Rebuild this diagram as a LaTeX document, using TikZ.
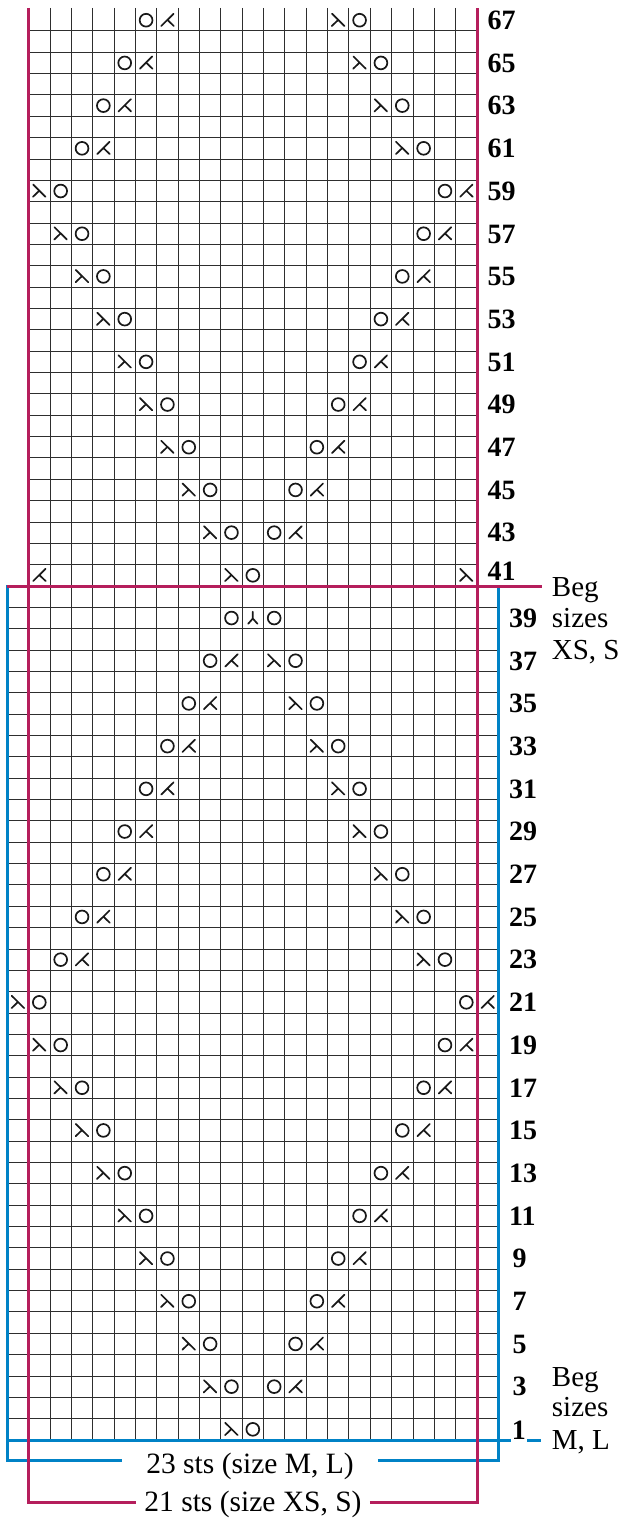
\documentclass[tikz,border=0pt]{standalone}
\usepackage{fontspec}
\setmainfont{Liberation Serif}
\definecolor{chartred}{RGB}{181,30,92}
\definecolor{chartblue}{RGB}{0,130,198}
\newcommand\chartst[3]{\pic at ({\xo+(#2+0.5)*\cw},{\yb-(#3-0.5)*\cw}) {#1};}
\begin{document}
\begin{tikzpicture}[x=1pt,y=-1pt,
  gridline/.style={line width=0.9pt, draw=black!82},
  sym/.style={line width=1.7pt, draw=black!90, line cap=round},
  redline/.style={line width=3pt, draw=chartred},
  blueline/.style={line width=3pt, draw=chartblue},
  rownum/.style={font=\fontsize{28}{30}\selectfont\bfseries, inner sep=0pt, anchor=base west},
  begtext/.style={font=\fontsize{29}{31}\selectfont, inner sep=0pt, anchor=base west},
  ststext/.style={font=\fontsize{29.5}{32}\selectfont, anchor=base, inner ysep=0pt},
  pics/yo/.style={code={\draw[sym] (0,0) circle (6.4);}},
  pics/kl/.style={code={\draw[sym] (6.2,-6.5) -- (-6.2,5.8) (0,-0.35) -- (6.4,5.8);}},
  pics/kr/.style={code={\draw[sym] (-6.2,-6.5) -- (6.2,5.8) (0,-0.35) -- (-6.4,5.8);}},
  pics/cdd/.style={code={\draw[sym] (0,-6.3) -- (0,0.5) (-4.7,5.8) -- (0,0.5) -- (4.7,5.8);}},
]
\useasboundingbox (0,0) rectangle (621,1520);
\def\cw{21.35}\def\xo{7.3}\def\yb{1440}
% grid
\foreach \j in {2,...,21} \draw[gridline] ({\xo+\j*\cw},8) -- ({\xo+\j*\cw},\yb);
\foreach \k in {41,...,66} \draw[gridline] ({\xo+\cw},{\yb-\k*\cw}) -- ({\xo+22*\cw},{\yb-\k*\cw});
\foreach \k in {1,...,39} \draw[gridline] (\xo,{\yb-\k*\cw}) -- ({\xo+23*\cw},{\yb-\k*\cw});
% stitches
\foreach \i in {0,...,3}{\chartst{yo}{6-\i}{67-2*\i}\chartst{kl}{7-\i}{67-2*\i}\chartst{kr}{15+\i}{67-2*\i}\chartst{yo}{16+\i}{67-2*\i}}
\foreach \i in {0,...,8}{\chartst{kr}{1+\i}{59-2*\i}\chartst{yo}{2+\i}{59-2*\i}\chartst{yo}{20-\i}{59-2*\i}\chartst{kl}{21-\i}{59-2*\i}}
\chartst{kl}{1}{41}\chartst{kr}{10}{41}\chartst{yo}{11}{41}\chartst{kr}{21}{41}
\chartst{yo}{10}{39}\chartst{cdd}{11}{39}\chartst{yo}{12}{39}
\foreach \i in {0,...,7}{\chartst{yo}{9-\i}{37-2*\i}\chartst{kl}{10-\i}{37-2*\i}\chartst{kr}{12+\i}{37-2*\i}\chartst{yo}{13+\i}{37-2*\i}}
\foreach \i in {0,...,9}{\chartst{kr}{\i}{21-2*\i}\chartst{yo}{1+\i}{21-2*\i}\chartst{yo}{21-\i}{21-2*\i}\chartst{kl}{22-\i}{21-2*\i}}
\chartst{kr}{10}{1}\chartst{yo}{11}{1}
% row numbers
\foreach \r in {43,45,...,67} \node[rownum] (row\r) at (487.5,{\yb-(\r-0.5)*\cw+9.3}) {\r};
\node[rownum] (row41) at (487.5,580.7) {41};
\foreach \r in {11,13,...,39} \node[rownum] (row\r) at (509,{\yb-(\r-0.5)*\cw+9.3}) {\r};
\foreach \r in {3,5,7,9} \node[rownum] (row\r) at (512.5,{\yb-(\r-0.5)*\cw+9.3}) {\r};
\node[rownum, inner xsep=1pt] (row1) at (510.7,1439.5) {1};
% blue frame
\coordinate (bTL) at (\xo,586);
\coordinate (bBL) at (\xo,1460);
\coordinate (bBR) at ({\xo+23*\cw},1460);
\coordinate (bTR) at ({\xo+23*\cw},586);
\node[ststext, inner xsep=24pt] (sts23) at (250,1473.3) {23 sts (size M, L)};
\draw[blueline] (sts23.east |- bBR) -- (bBR) -- (bTR) -- (bTL) -- (bBL) -- (sts23.west |- bBL);
\coordinate (bRowL) at (\xo,\yb);
\coordinate (bRowR) at (540.5,\yb);
\draw[blueline] (bRowL) -- (row1.base west |- bRowL);
\draw[blueline] (row1.base east |- bRowR) -- (bRowR);
% red frame
\coordinate (rTL) at ({\xo+\cw},8);
\coordinate (rBL) at ({\xo+\cw},1502);
\coordinate (rBR) at ({\xo+22*\cw},1502);
\coordinate (rTR) at ({\xo+22*\cw},8);
\node[ststext, inner xsep=8pt] (sts21) at (253,1511.5) {21 sts (size XS, S)};
\draw[redline] (rTL) -- (rBL) -- (sts21.west |- rBL);
\draw[redline] (sts21.east |- rBR) -- (rBR) -- (rTR);
\coordinate (rRowL) at (\xo,586);
\coordinate (rRowR) at (541.7,586);
\draw[redline] (rRowL) -- (rRowR);
% size notes
\node[begtext] (begA1) at (551.7,596) {Beg};
\node[begtext] (begA2) at (551.7,627.3) {sizes};
\node[begtext] (begA3) at (551.7,659.3) {XS, S};
\node[begtext] (begB1) at (551.7,1386) {Beg};
\node[begtext] (begB2) at (551.7,1416.7) {sizes};
\node[begtext] (begB3) at (551.7,1449.3) {M, L};
\end{tikzpicture}
\end{document}
